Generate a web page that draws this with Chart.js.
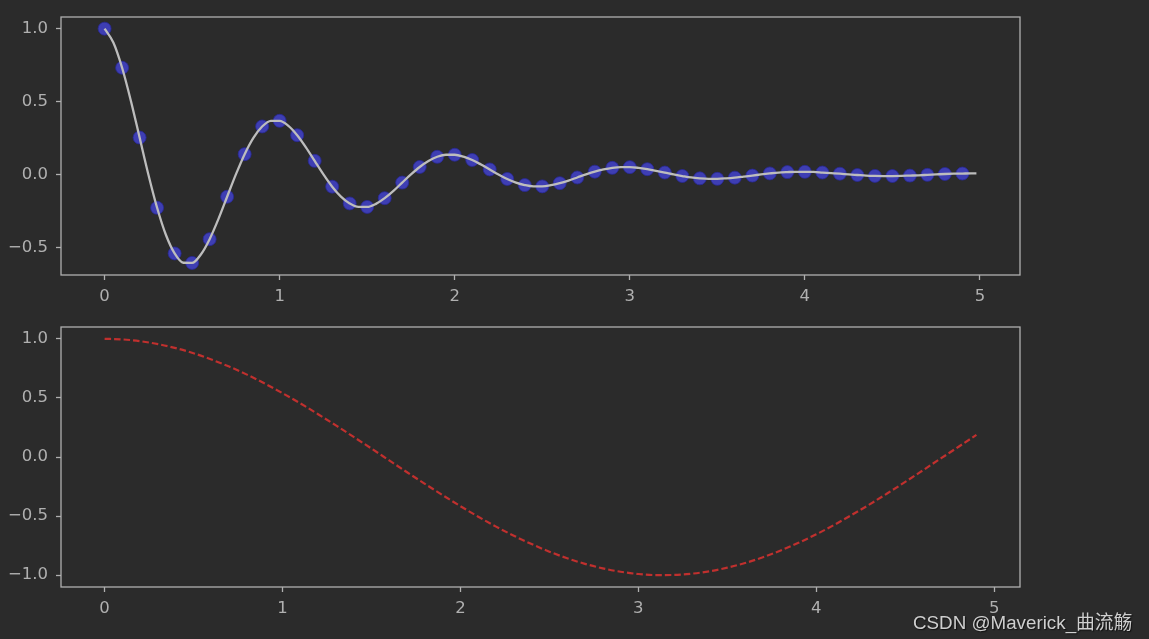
<!DOCTYPE html>
<html>
<head>
<meta charset="utf-8">
<script src="https://cdn.jsdelivr.net/npm/chart.js@4"></script>
<style>
  html, body { margin: 0; padding: 0; background: #2b2b2b; }
  #wrap { position: relative; width: 1149px; height: 639px; overflow: hidden; }
  #top { position: absolute; left: 0; top: -1px; }
  #bottom { position: absolute; left: 0; top: 309px; }
  #mark { position: absolute; left: 913px; top: 607px; color: #cfcfcf;
          text-shadow: 1px 1px 1px #111;
          font: 18.8px "Liberation Sans", "Noto Sans CJK SC", sans-serif; }
</style>
</head>
<body>
<div id="wrap">
  <canvas id="top" width="1149" height="321"></canvas>
  <canvas id="bottom" width="1149" height="330"></canvas>
  <div id="mark">CSDN @Maverick_曲流觞</div>
</div>
<script>
// dots, t = 0 .. 4.9 step 0.1
var dotT = [0.0,0.1,0.2,0.3,0.4,0.5,0.6,0.7,0.8,0.9,1.0,1.1,1.2,1.3,1.4,1.5,1.6,1.7,1.8,1.9,
            2.0,2.1,2.2,2.3,2.4,2.5,2.6,2.7,2.8,2.9,3.0,3.1,3.2,3.3,3.4,3.5,3.6,3.7,3.8,3.9,
            4.0,4.1,4.2,4.3,4.4,4.5,4.6,4.7,4.8,4.9];
var dotF = [1.000,0.732,0.253,-0.229,-0.542,-0.607,-0.444,-0.153,0.139,0.329,
            0.368,0.269,0.093,-0.084,-0.199,-0.223,-0.163,-0.056,0.051,0.121,
            0.135,0.099,0.034,-0.031,-0.073,-0.082,-0.060,-0.021,0.019,0.045,
            0.050,0.036,0.013,-0.011,-0.027,-0.030,-0.022,-0.008,0.007,0.016,
            0.018,0.013,0.005,-0.004,-0.010,-0.011,-0.008,-0.003,0.003,0.006];

// smooth curve, t = 0 .. 4.95 step 0.05, then end point
var lineF = [1.000,0.905,0.732,0.506,0.253,0.000,-0.229,-0.414,-0.542,-0.606,
             -0.607,-0.549,-0.444,-0.307,-0.153,0.000,0.139,0.251,0.329,0.368,
             0.368,0.333,0.269,0.186,0.093,0.000,-0.084,-0.152,-0.199,-0.223,
             -0.223,-0.202,-0.163,-0.113,-0.056,0.000,0.051,0.092,0.121,0.135,
             0.135,0.122,0.099,0.068,0.034,0.000,-0.031,-0.056,-0.073,-0.082,
             -0.082,-0.074,-0.060,-0.042,-0.021,0.000,0.019,0.034,0.045,0.050,
             0.050,0.045,0.036,0.025,0.013,0.000,-0.011,-0.021,-0.027,-0.030,
             -0.030,-0.027,-0.022,-0.015,-0.008,0.000,0.007,0.013,0.016,0.018,
             0.018,0.017,0.013,0.009,0.005,0.000,-0.004,-0.008,-0.010,-0.011,
             -0.011,-0.010,-0.008,-0.006,-0.003,0.000,0.003,0.005,0.006,0.007];
var lineEnd = [4.98, 0.007];

// lower panel, t = 0 .. 4.9 step 0.1
var cosF = [1.000,0.995,0.980,0.955,0.921,0.878,0.825,0.765,0.697,0.622,
            0.540,0.454,0.362,0.267,0.170,0.071,-0.029,-0.129,-0.227,-0.323,
            -0.416,-0.505,-0.589,-0.666,-0.737,-0.801,-0.857,-0.904,-0.942,-0.971,
            -0.990,-0.999,-0.998,-0.987,-0.967,-0.936,-0.897,-0.848,-0.791,-0.726,
            -0.654,-0.575,-0.490,-0.401,-0.307,-0.211,-0.112,-0.012,0.087,0.187];

var xTicks = [0, 1, 2, 3, 4, 5];
var yTicksTop = [-0.5, 0.0, 0.5, 1.0];
var yTicksBottom = [-1.0, -0.5, 0.0, 0.5, 1.0];

var fg = '#b0b0b0';
var tickFont = { family: 'DejaVu Sans', size: 16.5 };

function fmt(v, dec) {
    return v.toFixed(dec).replace('-', '\u2212');
}

var frame = {
    id: 'frame',
    afterDraw: function (chart) {
        var a = chart.chartArea, ctx = chart.ctx;
        ctx.save();
        ctx.strokeStyle = fg;
        ctx.lineWidth = 1.3;
        ctx.strokeRect(a.left, a.top, a.right - a.left, a.bottom - a.top);
        ctx.restore();
    }
};

function axes(xmin, xmax, ymin, ymax, yTicks, xH) {
    return {
        x: {
            type: 'linear', min: xmin, max: xmax,
            afterBuildTicks: function (s) { s.ticks = xTicks.map(function (v) { return { value: v }; }); },
            afterFit: function (s) { s.height = xH; },
            grid: { drawOnChartArea: false, color: fg, tickLength: 5, tickWidth: 1.3 },
            border: { display: false },
            ticks: { color: fg, font: tickFont, padding: 7, maxRotation: 0,
                     callback: function (v) { return fmt(v, 0); } }
        },
        y: {
            type: 'linear', min: ymin, max: ymax,
            afterBuildTicks: function (s) { s.ticks = yTicks.map(function (v) { return { value: v }; }); },
            afterFit: function (s) { s.width = 61; },
            grid: { drawOnChartArea: false, color: fg, tickLength: 5, tickWidth: 1.3 },
            border: { display: false },
            ticks: { color: fg, font: tickFont, padding: 8,
                     callback: function (v) { return fmt(v, 1); } }
        }
    };
}

window.onload = function () {
    var linePts = lineF.map(function (f, i) { return { x: Math.round(i * 5) / 100, y: f }; });
    linePts.push({ x: lineEnd[0], y: lineEnd[1] });
    var dotPts = dotT.map(function (t, i) { return { x: t, y: dotF[i] }; });
    var cosPts = cosF.map(function (f, i) { return { x: dotT[i], y: f }; });

    new Chart(document.getElementById('top'), {
        type: 'scatter',
        data: {
            datasets: [
                { data: linePts, showLine: true, borderColor: '#bdbdbd', borderWidth: 2.3,
                  pointRadius: 0, cubicInterpolationMode: 'monotone' },
                { data: dotPts, pointRadius: 6.5, pointBackgroundColor: 'rgba(70,70,225,0.75)',
                  pointBorderColor: 'rgba(40,40,150,0.8)', pointBorderWidth: 1 }
            ]
        },
        options: {
            responsive: false, animation: false,
            layout: { padding: { left: 0, right: 129, top: 18, bottom: 0 } },
            plugins: { legend: { display: false }, tooltip: { enabled: false } },
            scales: axes(-0.249, 5.229, -0.69, 1.08, yTicksTop, 45)
        },
        plugins: [frame]
    });

    new Chart(document.getElementById('bottom'), {
        type: 'scatter',
        data: {
            datasets: [
                { data: cosPts, showLine: true, borderColor: '#c0302e', borderWidth: 2.2,
                  borderDash: [6.5, 3], pointRadius: 0, cubicInterpolationMode: 'monotone' }
            ]
        },
        options: {
            responsive: false, animation: false,
            layout: { padding: { left: 0, right: 129, top: 18, bottom: 0 } },
            plugins: { legend: { display: false }, tooltip: { enabled: false } },
            scales: axes(-0.245, 5.145, -1.1, 1.1, yTicksBottom, 52)
        },
        plugins: [frame]
    });
};
</script>
</body>
</html>
